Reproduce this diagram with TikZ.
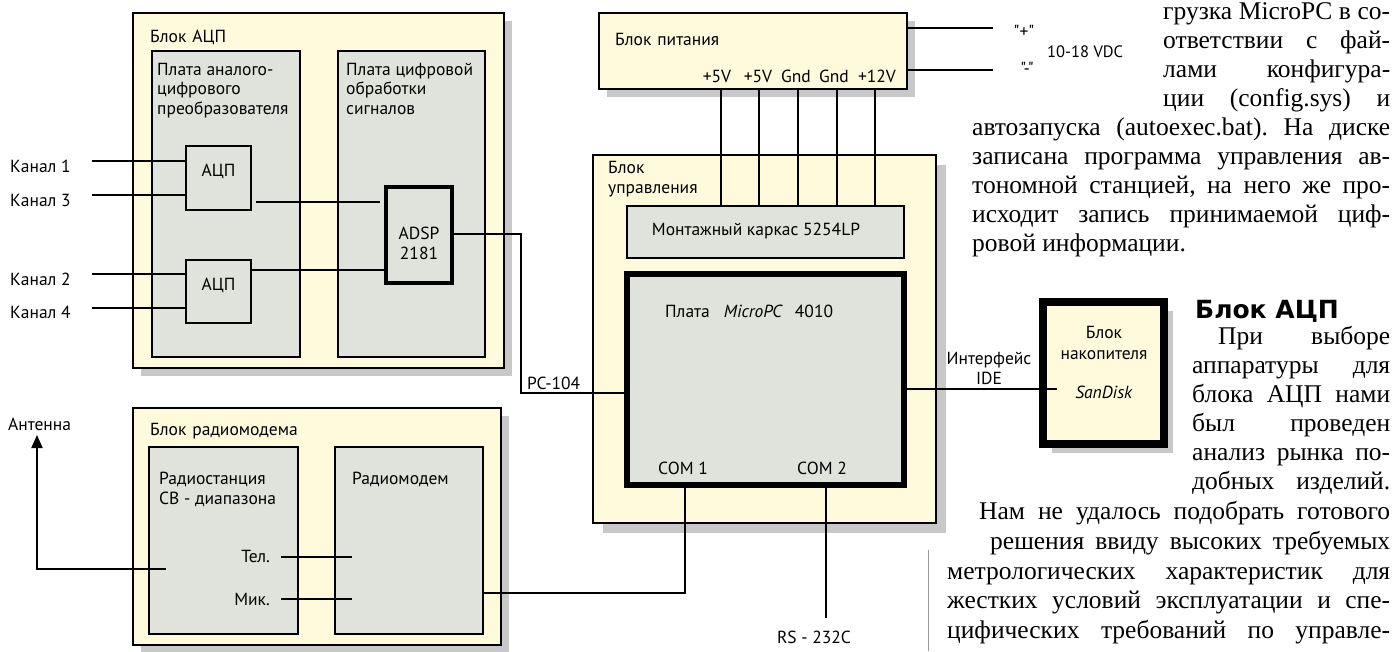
\documentclass[tikz,border=0pt]{standalone}
\usepackage{fontspec}
\setmainfont{Liberation Serif}
\newfontfamily\dsans{PT Sans}
\newfontfamily\hdfont{DejaVu Sans}
\usetikzlibrary{shadows,fit,calc,arrows.meta}
\definecolor{byel}{HTML}{FFFADC}
\definecolor{bgray}{HTML}{DFE3DC}
\definecolor{shd}{HTML}{C8C8C8}
\frenchspacing
\begin{document}
\begin{tikzpicture}[x=1pt,y=-1pt,
  blk/.style={draw, line width=2.6pt, fill=byel, inner sep=0pt},
  shad/.style={drop shadow={shadow xshift=#1, shadow yshift=-#1, fill=shd, opacity=1}},
  brd/.style={draw, line width=2.2pt, fill=bgray, inner sep=0pt},
  dl/.style={font=\dsans\fontsize{17.5}{19.5}\selectfont, inner sep=0pt},
  conn/.style={line width=2pt},
  wire/.style={line width=1.6pt},
  pline/.style={line width=2.6pt},
  col/.style={anchor=base west, inner sep=0pt, font=\fontsize{25.5}{29}\selectfont}]
\useasboundingbox (0,0) rectangle (1394,651);

% ---------- outer blocks
\node[blk, shad=8pt, fit={(133,13) (504,368)}] (adcb) {};
\node[blk, shad=8pt, fit={(599,13) (907,89)}] (pwr) {};
\node[blk, shad=10pt, fit={(593,155) (936,523)}] (ctl) {};
\node[blk, shad=8pt, fit={(133,408) (501,645)}] (rad) {};

% ---------- boards
\node[brd, fit={(152,51) (300,357)}] (b1) {};
\node[brd, fit={(338,51) (485,357)}] (b2) {};
\node[brd, dl, fit={(186,146) (251,210)}] (adc1) {АЦП};
\node[brd, dl, fit={(186,260) (251,323)}] (adc2) {АЦП};
\node[brd, line width=3.2pt, fit={(386,187) (452,283)}] (adsp) {};
\node[brd, line width=2pt, fit={(627,206) (904,258)}] (mk) {};
\node[brd, line width=6pt, fit={(627,274) (904,485)}] (mpc) {};
\node[brd, fit={(149,447) (298,634)}] (rst) {};
\node[brd, fit={(335,447) (483,634)}] (rmod) {};

% ---------- coordinates
\coordinate (c1) at (92,161);
\coordinate (c3) at (92,195);
\coordinate (c2) at (92,274);
\coordinate (c4) at (92,308);
\coordinate (y202) at (0,202);
\coordinate (y270) at (0,270);
\coordinate (pcA) at (521,234);
\coordinate (pcB) at (521,393);
\coordinate (p1) at (721,0);
\coordinate (p2) at (759,0);
\coordinate (p3) at (798,0);
\coordinate (p4) at (837,0);
\coordinate (p5) at (875,0);
\coordinate (vp) at (993,28);
\coordinate (vm) at (993,70);
\coordinate (cm1) at (685,593);
\coordinate (cm2) at (826,618);
\coordinate (ide) at (1057,389);
\coordinate (telA) at (281,557);
\coordinate (telB) at (352,557);
\coordinate (mikA) at (281,599);
\coordinate (mikB) at (352,599);
\coordinate (antA) at (166,569);
\coordinate (antT) at (37,435);

% ---------- storage block
\node[draw, line width=7.5pt, fill=byel, inner sep=0pt, shad=9pt, fit={(1043,302) (1164,444)}] (sto) {};

% ---------- connectors
\draw[conn] (c1) -- (c1 -| adc1.west);
\draw[conn] (c3) -- (c3 -| adc1.west);
\draw[conn] (c2) -- (c2 -| adc2.west);
\draw[conn] (c4) -- (c4 -| adc2.west);
\draw[conn] ($(adc1.east |- y202)+(4,0)$) -- ($(adsp.west |- y202)+(-4,0)$);
\draw[conn] (adc2.east |- y270) -- (adsp.west |- y270);
\draw[wire] (adsp.east |- pcA) -- (pcA) -- (pcB) -- (mpc.west |- pcB);
\foreach \p in {p1,p2,p3,p4,p5} \draw[pline] (pwr.south -| \p) -- (mk.north -| \p);
\draw[pline] (pwr.east |- vp) -- (vp);
\draw[pline] (pwr.east |- vm) -- (vm);
\draw[wire] (mpc.south -| cm1) -- (cm1) -- (rmod.east |- cm1);
\draw[wire] (mpc.south -| cm2) -- (cm2);
\draw[wire] (mpc.east |- ide) -- (ide);
\draw[conn] (telA) -- (telB);
\draw[conn] (mikA) -- (mikB);
\draw[conn, -{Triangle[length=13pt,width=11pt]}] (antA) -| (antT);

% ---------- diagram labels (multi-line nodes: base = last line)
\node[dl, anchor=base west] (ladcb) at (150,42) {Блок\hspace{6pt}АЦП};
\node[dl, anchor=base west, align=left] (lb1) at (157,114) {Плата аналого-\\цифрового\\преобразователя};
\node[dl, anchor=base west, align=left] (lb2) at (346,114) {Плата цифровой\\обработки\\сигналов};
\node[dl, anchor=base, align=center] (ladsp) at (419,259) {ADSP\\2181};
\node[dl, anchor=base west] (k1) at (10,172) {Канал 1};
\node[dl, anchor=base west] (k3) at (10,206) {Канал 3};
\node[dl, anchor=base west] (k2) at (10,285) {Канал 2};
\node[dl, anchor=base west] (k4) at (10,318) {Канал 4};
\node[dl, anchor=base west] (lpwr) at (615,45) {Блок\hspace{6pt}питания};
\node[dl, anchor=base] (v1) at (717,82) {+5V};
\node[dl, anchor=base] (v2) at (758,82) {+5V};
\node[dl, anchor=base] (v3) at (796,82) {Gnd};
\node[dl, anchor=base] (v4) at (834,82) {Gnd};
\node[dl, anchor=base] (v5) at (877,82) {+12V};
\node[dl, anchor=base] (lplus) at (1024,37) {"+"};
\node[dl, anchor=base] (lminus) at (1027,74) {"-"};
\node[dl, anchor=base west, font=\dsans\fontsize{16.5}{19}\selectfont] (lvdc) at (1047,57) {10-18 VDC};
\node[dl, anchor=base west, align=left, font=\dsans\fontsize{17.5}{20}\selectfont] (lctl) at (608,193) {Блок\\управления};
\node[dl, anchor=base] (lmk) at (756,235) {Монтажный каркас 5254LP};
\node[dl, anchor=base west] (lmpc) at (665,317) {Плата\hspace{14pt}\textit{MicroPC}\hspace{12pt}4010};
\node[dl, anchor=base] (lcom1) at (683,474) {COM 1};
\node[dl, anchor=base] (lcom2) at (822,474) {COM 2};
\node[dl, anchor=base] (lrs) at (814,643) {RS - 232C};
\node[dl, anchor=base west] (lpc) at (527,389) {PC-104};
\node[dl, anchor=base, align=center] (lide) at (989,384) {Интерфейс\\IDE};
\node[dl, anchor=base, align=center, font=\dsans\fontsize{17.5}{21}\selectfont] (lsto) at (1104,359) {Блок\\накопителя};
\node[dl, anchor=base] (lsan) at (1104,398) {\textit{SanDisk}};
\node[dl, anchor=base west] (lrad) at (150,435) {Блок\hspace{6pt}радиомодема};
\node[dl, anchor=base west, align=left] (lrst) at (159,504) {Радиостанция\\СВ - диапазона};
\node[dl, anchor=base west] (lrmod) at (352,484) {Радиомодем};
\node[dl, anchor=base east] (ltel) at (270,562) {Тел.};
\node[dl, anchor=base east] (lmik) at (270,605) {Мик.};
\node[dl, anchor=base west] (lant) at (8,430) {Антенна};

% ---------- column rule
\draw[color=gray!80, line width=1pt] (928,550) -- (928,651);

% ---------- article text
\node[col] (t1) at (1163,19) {\makebox[227pt][s]{грузка MicroPC в со-}};
\node[col] (t2) at (1163,48) {\makebox[227pt][s]{ответствии с фай-}};
\node[col] (t3) at (1163,77) {\makebox[227pt][s]{лами конфигура-}};
\node[col] (t4) at (1163,106) {\makebox[227pt][s]{ции (config.sys) и}};
\node[col] (t5) at (972,135) {\makebox[418pt][s]{автозапуска (autoexec.bat). На диске}};
\node[col] (t6) at (972,164) {\makebox[418pt][s]{записана программа управления ав-}};
\node[col] (t7) at (972,193) {\makebox[418pt][s]{тономной станцией, на него же про-}};
\node[col] (t8) at (972,222) {\makebox[418pt][s]{исходит запись принимаемой циф-}};
\node[col] (t9) at (972,251) {ровой информации.};
\node[anchor=base west, inner sep=0pt, font=\hdfont\bfseries\fontsize{25}{28}\selectfont] (head) at (1195,318) {Блок АЦП};
\node[col] (u1) at (1218,344) {\makebox[172pt][s]{При выборе}};
\node[col] (u2) at (1192,373) {\makebox[198pt][s]{аппаратуры для}};
\node[col] (u3) at (1192,402) {\makebox[198pt][s]{блока АЦП нами}};
\node[col] (u4) at (1192,431) {\makebox[198pt][s]{был проведен}};
\node[col] (u5) at (1192,460) {\makebox[198pt][s]{анализ рынка по-}};
\node[col] (u6) at (1192,489) {\makebox[198pt][s]{добных изделий.}};
\node[col] (u7) at (979,519) {\makebox[411pt][s]{Нам не удалось подобрать готового}};
\node[col] (u8) at (990,549) {\makebox[400pt][s]{решения ввиду высоких требуемых}};
\node[col] (u9) at (947,579) {\makebox[443pt][s]{метрологических характеристик для}};
\node[col] (u10) at (947,608) {\makebox[443pt][s]{жестких условий эксплуатации и спе-}};
\node[col] (u11) at (947,638) {\makebox[443pt][s]{цифических требований по управле-}};
\end{tikzpicture}
\end{document}
